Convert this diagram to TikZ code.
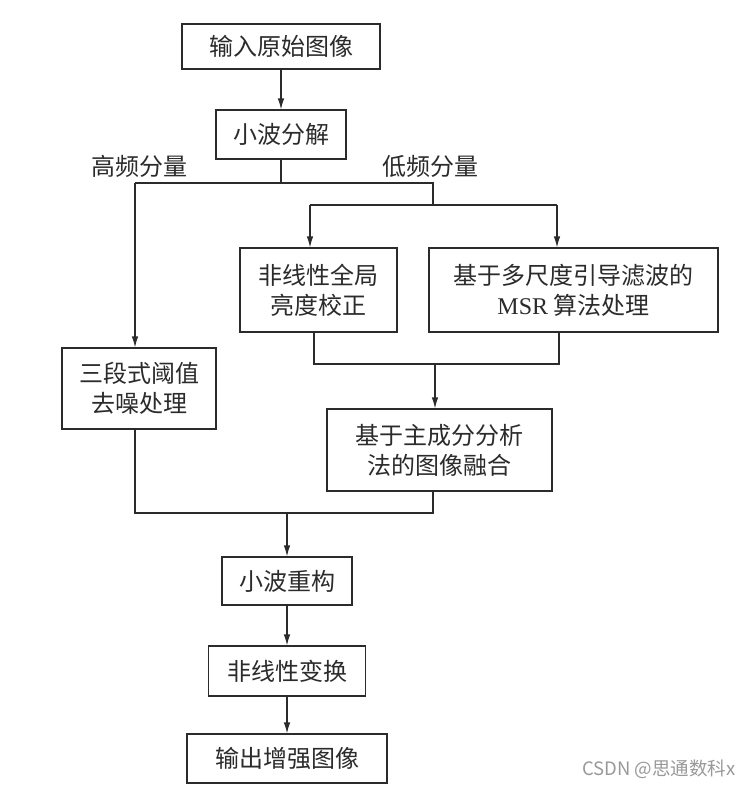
\documentclass[tikz,border=0pt]{standalone}
\usepackage{fontspec}
\setmainfont{Liberation Serif}
\newfontfamily\cjk{Noto Sans CJK SC}
\usetikzlibrary{arrows.meta}
\definecolor{ink}{HTML}{2B2B2B}
\tikzstyle{block} = [draw=ink, line width=1.2pt, text=ink, align=center, inner sep=0pt, font=\cjk\fontsize{24}{30}\selectfont]
\tikzstyle{tag} = [text=ink, font=\cjk\fontsize{24}{30}\selectfont]
\tikzset{
  line/.style ={draw=ink, line width=1.2pt, -{Latex[length=11pt,width=6.5pt]}},
  link/.style ={draw=ink, line width=1.2pt}
}

\begin{document}
\begin{tikzpicture}[x=1pt,y=-1pt]
  \path[fill=white,use as bounding box] (0,0) rectangle (750,787);

  \node[block,minimum width=198pt,minimum height=45pt] (input) at (281,46.5) {输入原始图像};
  \node[block,minimum width=130pt,minimum height=49pt] (decomp) at (281,134.5) {小波分解};
  \node[tag] (high) at (139,166) {高频分量};
  \node[tag] (low) at (430,166) {低频分量};
  \node[block,minimum width=157pt,minimum height=84pt] (gamma) at (318.5,290) {非线性全局\\亮度校正};
  \node[block,minimum width=289pt,minimum height=84pt] (msr) at (573.5,290) {基于多尺度引导滤波的\\{\rmfamily MSR} 算法处理};
  \node[block,minimum width=154pt,minimum height=81pt] (denoise) at (139,388.5) {三段式阈值\\去噪处理};
  \node[block,minimum width=225pt,minimum height=82pt] (fusion) at (439.5,450) {基于主成分分析\\法的图像融合};
  \node[block,minimum width=130pt,minimum height=48pt] (recon) at (287,581) {小波重构};
  \node[block,minimum width=157pt,minimum height=50pt] (nonlin) at (287,671) {非线性变换};
  \node[block,minimum width=200pt,minimum height=49pt] (output) at (287,758.5) {输出增强图像};
  \node[text=black!40, font=\cjk\fontsize{18.5}{20}\selectfont] (mark) at (659,769) {CSDN @思通数科x};

  % branch points
  \coordinate (hsplit) at (281,183);
  \coordinate (hleft) at (135,183);
  \coordinate (hright) at (433,183);
  \coordinate (lsplit) at (433,205);
  \coordinate (lleft) at (310,205);
  \coordinate (lright) at (557,205);
  \coordinate (mleft) at (314,364);
  \coordinate (mright) at (559,364);
  \coordinate (mmid) at (435,364);
  \coordinate (bleft) at (135,513);
  \coordinate (bright) at (433,513);
  \coordinate (bmid) at (287,513);

  \begin{scope}[every path/.style=link]
    \path (decomp) -- (hsplit);
    \path (hleft) -- (hright) -- (lsplit);
    \path (lleft) -- (lright);
    \path (gamma.south -| mleft) -- (mleft) -- (mright) -- (msr.south -| mright);
    \path (denoise.south -| bleft) -- (bleft) -- (bright) -- (fusion.south -| bright);
  \end{scope}

  \begin{scope}[every path/.style=line]
    \path (input) -- (decomp);
    \path (hleft) -- (hleft |- denoise.north);
    \path (lleft) -- (lleft |- gamma.north);
    \path (lright) -- (lright |- msr.north);
    \path (mmid) -- (mmid |- fusion.north);
    \path (bmid) -- (recon);
    \path (recon) -- (nonlin);
    \path (nonlin) -- (output);
  \end{scope}

\end{tikzpicture}
\end{document}
